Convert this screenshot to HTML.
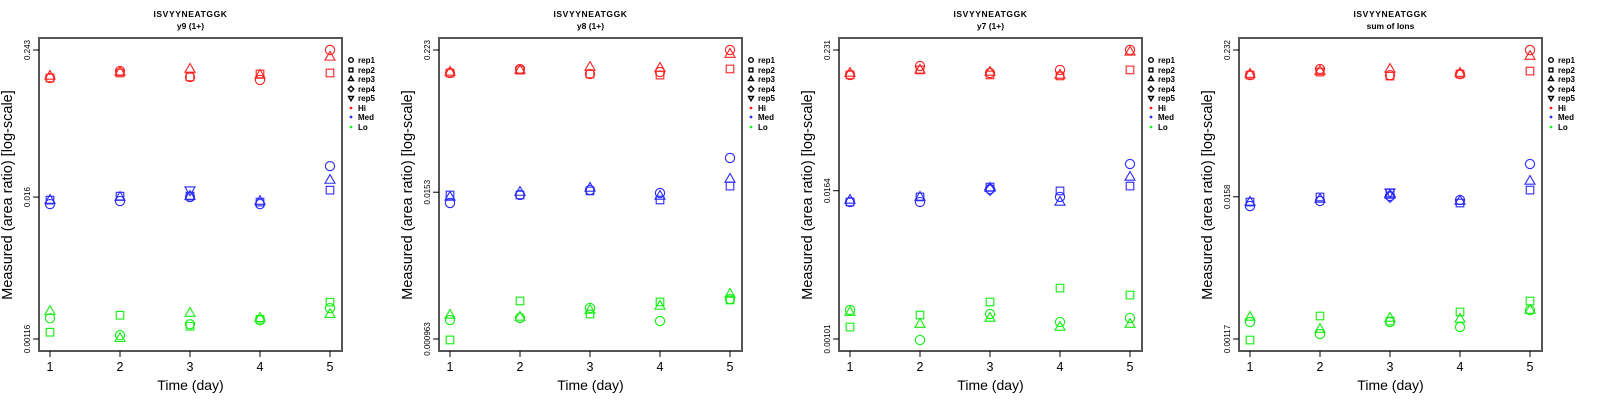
<!DOCTYPE html>
<html><head><meta charset="utf-8">
<style>
html,body{margin:0;padding:0;background:#fff;}
svg{display:block;font-family:"Liberation Sans",sans-serif;}
</style></head>
<body>
<svg id="chart" width="1600" height="400" viewBox="0 0 1600 400" xmlns="http://www.w3.org/2000/svg"></svg>
<script>
// ---- data (log10 of measured area ratio) ----
const days = [1, 2, 3, 4, 5];
const repNames = ['rep1', 'rep2', 'rep3', 'rep4', 'rep5'];
const levels = ['Hi', 'Med', 'Lo'];
const panelTitles = ['y9 (1+)', 'y8 (1+)', 'y7 (1+)', 'sum of Ions'];
const peptide = 'ISVYYNEATGGK';
const tickLabels1 = ['0.243', '0.016', '0.00116'];
const tickLabels2 = ['0.223', '0.0153', '0.000963'];
const tickLabels3 = ['0.231', '0.0164', '0.00101'];
const tickLabels4 = ['0.232', '0.0158', '0.00117'];

// panel 1 (y9)
const p1_hi_rep1 = [-0.839, -0.783, -0.831, -0.855, -0.614];
const p1_hi_rep2 = [-0.839, -0.799, -0.831, -0.807, -0.799];
const p1_hi_rep3 = [-0.823, -0.791, -0.767, -0.815, -0.670];
const p1_med_rep1 = [-1.852, -1.828, -1.796, -1.852, -1.547];
const p1_med_rep2 = [-1.820, -1.788, -1.788, -1.836, -1.740];
const p1_med_rep3 = [-1.820, -1.796, -1.788, -1.828, -1.659];
const p1_med_rep5 = [null, null, -1.740, null, null];
const p1_lo_rep1 = [-2.769, -2.905, -2.817, -2.785, -2.688];
const p1_lo_rep2 = [-2.881, -2.745, -2.833, -2.777, -2.640];
const p1_lo_rep3 = [-2.712, -2.930, -2.728, -2.769, -2.737];
// panel 2 (y8)
const p2_hi_rep1 = [-0.840, -0.807, -0.848, -0.832, -0.652];
const p2_hi_rep2 = [-0.840, -0.816, -0.848, -0.857, -0.807];
const p2_hi_rep3 = [-0.832, -0.816, -0.791, -0.799, -0.685];
const p2_med_rep1 = [-1.904, -1.838, -1.797, -1.822, -1.535];
const p2_med_rep2 = [-1.838, -1.838, -1.805, -1.879, -1.765];
const p2_med_rep3 = [-1.854, -1.814, -1.781, -1.846, -1.707];
const p2_lo_rep1 = [-2.861, -2.844, -2.762, -2.869, -2.689];
const p2_lo_rep2 = [-3.024, -2.705, -2.812, -2.713, -2.697];
const p2_lo_rep3 = [-2.820, -2.836, -2.779, -2.746, -2.648];
// panel 3 (y7)
const p3_hi_rep1 = [-0.840, -0.767, -0.824, -0.799, -0.636];
const p3_hi_rep2 = [-0.840, -0.799, -0.840, -0.848, -0.799];
const p3_hi_rep3 = [-0.824, -0.799, -0.816, -0.840, -0.652];
const p3_med_rep1 = [-1.877, -1.877, -1.771, -1.836, -1.567];
const p3_med_rep2 = [-1.877, -1.836, -1.755, -1.787, -1.747];
const p3_med_rep3 = [-1.861, -1.836, -1.763, -1.877, -1.673];
const p3_med_rep4 = [null, null, -1.779, null, null];
const p3_lo_rep1 = [-2.759, -3.004, -2.792, -2.857, -2.824];
const p3_lo_rep2 = [-2.898, -2.800, -2.694, -2.580, -2.637];
const p3_lo_rep3 = [-2.776, -2.874, -2.824, -2.898, -2.874];
// panel 4 (sum of ions)
const p4_hi_rep1 = [-0.834, -0.786, -0.834, -0.826, -0.635];
const p4_hi_rep2 = [-0.834, -0.810, -0.842, -0.826, -0.802];
const p4_hi_rep3 = [-0.826, -0.802, -0.786, -0.818, -0.683];
const p4_med_rep1 = [-1.875, -1.835, -1.795, -1.827, -1.541];
const p4_med_rep2 = [-1.843, -1.803, -1.772, -1.851, -1.748];
const p4_med_rep3 = [-1.843, -1.819, -1.787, -1.835, -1.676];
const p4_med_rep4 = [null, null, -1.803, null, null];
const p4_med_rep5 = [null, null, -1.764, null, null];
const p4_lo_rep1 = [-2.797, -2.892, -2.797, -2.837, -2.702];
const p4_lo_rep2 = [-2.940, -2.749, -2.789, -2.717, -2.630];
const p4_lo_rep3 = [-2.757, -2.853, -2.765, -2.773, -2.702];

const panels = [
  {ticks: tickLabels1, series: {Hi: [p1_hi_rep1, p1_hi_rep2, p1_hi_rep3, null, null], Med: [p1_med_rep1, p1_med_rep2, p1_med_rep3, null, p1_med_rep5], Lo: [p1_lo_rep1, p1_lo_rep2, p1_lo_rep3, null, null]}},
  {ticks: tickLabels2, series: {Hi: [p2_hi_rep1, p2_hi_rep2, p2_hi_rep3, null, null], Med: [p2_med_rep1, p2_med_rep2, p2_med_rep3, null, null], Lo: [p2_lo_rep1, p2_lo_rep2, p2_lo_rep3, null, null]}},
  {ticks: tickLabels3, series: {Hi: [p3_hi_rep1, p3_hi_rep2, p3_hi_rep3, null, null], Med: [p3_med_rep1, p3_med_rep2, p3_med_rep3, p3_med_rep4, null], Lo: [p3_lo_rep1, p3_lo_rep2, p3_lo_rep3, null, null]}},
  {ticks: tickLabels4, series: {Hi: [p4_hi_rep1, p4_hi_rep2, p4_hi_rep3, null, null], Med: [p4_med_rep1, p4_med_rep2, p4_med_rep3, p4_med_rep4, p4_med_rep5], Lo: [p4_lo_rep1, p4_lo_rep2, p4_lo_rep3, null, null]}}
];
const colors = {Hi: '#ff2020', Med: '#2a2aff', Lo: '#11ee11'};

const NS = 'http://www.w3.org/2000/svg';
const svg = document.getElementById('chart');
function mk(tag, attrs, parent, text) {
  const e = document.createElementNS(NS, tag);
  for (const k in attrs) e.setAttribute(k, attrs[k]);
  if (text !== undefined) e.textContent = text;
  parent.appendChild(e);
  return e;
}
function marker(g, shape, cx, cy, col, s) {
  let e;
  if (shape === 0) e = mk('circle', {cx: cx, cy: cy, r: 4.6 * s}, g);
  else if (shape === 1) e = mk('rect', {x: cx - 3.8 * s, y: cy - 3.8 * s, width: 7.6 * s, height: 7.6 * s}, g);
  else if (shape === 2) e = mk('polygon', {points: `${cx},${cy - 5.5 * s} ${cx - 5 * s},${cy + 3.2 * s} ${cx + 5 * s},${cy + 3.2 * s}`}, g);
  else if (shape === 3) e = mk('polygon', {points: `${cx},${cy - 5.5 * s} ${cx + 5.5 * s},${cy} ${cx},${cy + 5.5 * s} ${cx - 5.5 * s},${cy}`}, g);
  else e = mk('polygon', {points: `${cx},${cy + 5.5 * s} ${cx - 5 * s},${cy - 3.2 * s} ${cx + 5 * s},${cy - 3.2 * s}`}, g);
  e.setAttribute('fill', 'none');
  e.setAttribute('stroke', col);
  e.setAttribute('stroke-width', s < 1 ? 1.4 : 1.1);
  return e;
}

panels.forEach((p, pi) => {
  const ox = pi * 400;
  const g = mk('g', {transform: `translate(${ox},0)`}, svg);
  
  
  const L = 39, R = 342, T = 38, B = 351;
  const topV = Math.log10(parseFloat(p.ticks[0]));
  const botV = Math.log10(parseFloat(p.ticks[2]));
  const yS = v => 50 + (topV - v) / (topV - botV) * 289;
  const xS = d => 50 + (d - 1) * 70;

  const t1 = mk('text', {x: 190.5, y: 17, 'text-anchor': 'middle', 'font-size': 8.5, 'font-weight': 'bold', 'letter-spacing': '0.6'}, g, peptide);
  
  
  const t2 = mk('text', {x: 190.5, y: 29, 'text-anchor': 'middle', 'font-size': 8.5, 'font-weight': 'bold'}, g, panelTitles[pi]);
  
  

  const box = mk('rect', {x: L, y: T, width: R - L, height: B - T, fill: 'none', stroke: '#555', 'stroke-width': 2}, g);
  
  

  // y ticks
  p.ticks.forEach((lab) => {
    const y = yS(Math.log10(parseFloat(lab)));
    mk('line', {x1: L - 6, x2: L, y1: y, y2: y, stroke: '#000', 'stroke-width': 1}, g);
    const tl = mk('text', {x: 0, y: 0, transform: `translate(30,${y}) rotate(-90)`, 'text-anchor': 'middle', 'font-size': 8}, g, lab);
    
    
  });
  const yt = mk('text', {x: 0, y: 0, transform: `translate(12,195) rotate(-90)`, 'text-anchor': 'middle', 'font-size': 14.5}, g, 'Measured (area ratio) [log-scale]');
  
  

  // x ticks
  days.forEach(d => {
    const x = xS(d);
    mk('line', {x1: x, x2: x, y1: B, y2: B + 6, stroke: '#000', 'stroke-width': 1}, g);
    const xl = mk('text', {x: x, y: 371, 'text-anchor': 'middle', 'font-size': 12.5}, g, String(d));
    
    
  });
  const xt = mk('text', {x: 190.5, y: 390, 'text-anchor': 'middle', 'font-size': 14}, g, 'Time (day)');
  
  

  // points
  levels.forEach(lv => {
    p.series[lv].forEach((arr, ri) => {
      if (!arr) return;
      arr.forEach((v, di) => {
        if (v === null) return;
        const m = marker(g, ri, xS(days[di]), yS(v), colors[lv], 1);
        
        
      });
    });
  });

  // legend
  const lg = mk('g', {}, g);
  
  
  const rowsY = [60, 70, 79, 89, 98, 108, 117, 127];
  repNames.forEach((rn, i) => {
    const m = marker(lg, i, 351, rowsY[i], '#000', 0.5);
    
    
    const t = mk('text', {x: 358, y: rowsY[i] + 3, 'font-size': 8, 'font-weight': 'bold'}, lg, rn);
    
    
  });
  levels.forEach((lv, i) => {
    const y = rowsY[5 + i];
    const c = mk('circle', {cx: 351, cy: y, r: 1.4, fill: colors[lv]}, lg);
    
    
    const t = mk('text', {x: 358, y: y + 3, 'font-size': 8, 'font-weight': 'bold'}, lg, lv);
    
    
  });
});
</script>
</body></html>
